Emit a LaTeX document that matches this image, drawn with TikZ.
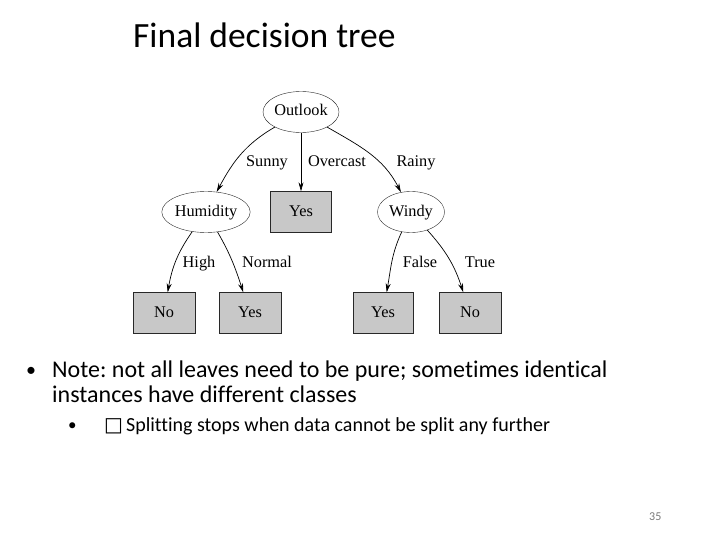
\documentclass[tikz,border=0pt]{standalone}
\usepackage{fontspec}
\setmainfont{Carlito}[Ligatures={NoCommon}]
\newfontfamily\treefont{Liberation Serif}
\newfontfamily\symbfont{DejaVu Sans}
\usepackage{xcolor}
\usepackage{tikz}
\usetikzlibrary{shapes,arrows.meta}
\definecolor{leafgray}{RGB}{200,200,200}
\definecolor{linegray}{RGB}{40,40,40}
\definecolor{pagegray}{RGB}{120,120,120}
\frenchspacing
\tikzset{
  attr/.style={
    draw = linegray,
    shape = ellipse,
    inner sep = 0pt,
    minimum height = 41pt,
    text height = 11pt,
    text depth = 3pt,
    font = \treefont\fontsize{16.3}{19}\selectfont
  },
  leaf/.style={
    draw = linegray,
    fill = leafgray,
    shape = rectangle,
    inner sep = 0pt,
    minimum width = 62pt,
    minimum height = 41pt,
    text height = 11pt,
    text depth = 3pt,
    font = \treefont\fontsize{16.3}{19}\selectfont
  },
  branch/.style={
    draw = black,
    line width = 0.7pt,
    -{Stealth[length=9pt,width=5pt]}
  },
  edgelabel/.style={
    anchor = base,
    inner sep = 0pt,
    font = \treefont\fontsize{16.3}{19}\selectfont
  },
  slidetext/.style={
    anchor = base west,
    inner sep = 0pt
  }
}

\begin{document}
\begin{tikzpicture}[x=1pt,y=1pt]
    \useasboundingbox (0,0) rectangle (720,-540);
    % title
    \node[slidetext, font=\fontsize{35.5}{43}\selectfont] (title) at (133,-48) {Final decision tree};
    % tree
    \node[attr, minimum width=76pt] (outlook) at (301,-112) {Outlook};
    \node[attr, minimum width=86pt] (humidity) at (206,-212) {Humidity};
    \node[leaf, minimum width=61pt] (yesA) at (301,-212) {Yes};
    \node[attr, minimum width=67pt] (windy) at (411,-212) {Windy};
    \node[leaf] (noA) at (164,-313) {No};
    \node[leaf] (yesB) at (250,-313) {Yes};
    \node[leaf, minimum width=60pt] (yesC) at (383,-313) {Yes};
    \node[leaf] (noB) at (470,-313) {No};
    \draw[branch] (outlook) to[out=-150, in=62] (humidity);
    \draw[branch] (outlook) -- (yesA);
    \draw[branch] (outlook) to[out=-30, in=117] (windy);
    \draw[branch] (humidity) to[out=-125, in=80] (noA);
    \draw[branch] (humidity) to[out=-60, in=108] (yesB);
    \draw[branch] (windy) to[out=-115, in=80] (yesC);
    \draw[branch] (windy) to[out=-48, in=108] (noB);
    \node[edgelabel] (sunny) at (267,-167) {Sunny};
    \node[edgelabel] (overcast) at (337,-167) {Overcast};
    \node[edgelabel] (rainy) at (416,-167) {Rainy};
    \node[edgelabel] (high) at (199,-267) {High};
    \node[edgelabel] (normal) at (267,-267) {Normal};
    \node[edgelabel] (false) at (420,-267) {False};
    \node[edgelabel] (true) at (480,-267) {True};
    % bullets
    \node[slidetext, font=\fontsize{20}{24}\selectfont] (dotA) at (26,-376) {•};
    \node[slidetext, font=\fontsize{24}{26}\selectfont] (noteA) at (52,-377)
        {Note: not all leaves need to be pure; sometimes identical};
    \node[slidetext, font=\fontsize{24}{26}\selectfont] (noteB) at (52,-402)
        {instances have different classes};
    \node[slidetext, font=\fontsize{17}{20}\selectfont] (dotB) at (68,-430) {•};
    \node[slidetext, font=\fontsize{20}{24}\selectfont] (split) at (104,-431)
        {{\symbfont\fontsize{20}{24}\selectfont □}\hspace{3pt}Splitting stops when data cannot be split any further};
    % page number
    \node[slidetext, font=\fontsize{12}{14}\selectfont, text=pagegray] (page) at (649,-520) {35};
\end{tikzpicture}
\end{document}
